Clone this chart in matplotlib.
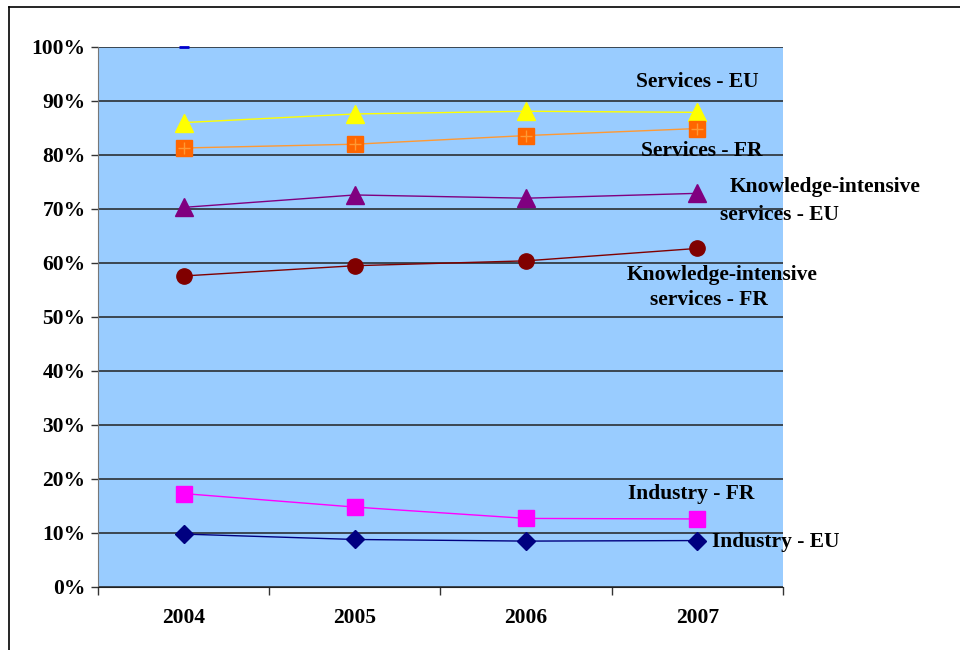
import matplotlib
matplotlib.use('Agg')
import matplotlib.pyplot as plt
from matplotlib.lines import Line2D
from matplotlib.ticker import FixedLocator, PercentFormatter

plt.rcParams['font.family'] = ['Liberation Serif', 'DejaVu Serif']
plt.rcParams['font.weight'] = 'bold'

years = ['2004', '2005', '2006', '2007']

services_eu = [86.0, 87.6, 88.1, 87.9]
services_fr = [81.3, 82.0, 83.6, 84.9]
kis_eu = [70.3, 72.6, 72.0, 72.9]
kis_fr = [57.6, 59.5, 60.4, 62.7]
industry_fr = [17.3, 14.8, 12.7, 12.6]
industry_eu = [9.8, 8.8, 8.5, 8.6]
stray_point = [100.0]

W, H = 960, 650
fig = plt.figure(figsize=(W / 100, H / 100), dpi=100)
ax = fig.add_axes([98 / W, 1 - 587 / H, (783 - 98) / W, (587 - 47) / H])
ax.set_facecolor('#99CCFF')

x = [i + 0.5 for i in range(len(years))]

ax.plot(x, services_eu, color='#FFFF00', lw=1, marker='^', ms=12.5, mfc='#FFFF00', mec='#FFFF00', zorder=3)
ax.plot(x, services_fr, color='#FF9933', lw=1, marker='s', ms=11, mfc='#FF6600', mec='#FF6600', zorder=3)
ax.plot(x, services_fr, lw=0, marker='+', ms=8, mec='#FF9933', mew=1, zorder=4)
ax.plot(x, kis_eu, color='#800080', lw=1, marker='^', ms=12.5, mfc='#800080', mec='#800080', zorder=3)
ax.plot(x, kis_fr, color='#800000', lw=1, marker='o', ms=11, mfc='#800000', mec='#800000', zorder=3)
ax.plot(x, industry_fr, color='#FF00FF', lw=1, marker='s', ms=11, mfc='#FF00FF', mec='#FF00FF', zorder=3)
ax.plot(x, industry_eu, color='#000080', lw=1, marker='D', ms=9.5, mfc='#000080', mec='#000080', zorder=3)
ax.plot(x[:1], stray_point, lw=0, marker='_', ms=7, mec='#0000CC', mew=2, zorder=4, clip_on=False)

ax.set_xlim(0, 4)
ax.set_ylim(0, 100)
ax.yaxis.set_major_locator(FixedLocator(range(0, 101, 10)))
ax.yaxis.set_major_formatter(PercentFormatter(decimals=0))
ax.xaxis.set_major_locator(FixedLocator(range(0, 5)))
ax.xaxis.set_minor_locator(FixedLocator(x))
ax.set_xticklabels([])
ax.set_xticklabels(years, minor=True)
ax.tick_params(axis='x', which='major', direction='out', length=6, width=1, color='#333333')
ax.tick_params(axis='x', which='minor', length=0, pad=15, labelsize=15.5)
ax.tick_params(axis='y', direction='out', length=5, width=1, color='#333333', labelsize=15.5, pad=4)
for lab in ax.get_xticklabels(minor=True) + ax.get_yticklabels():
    lab.set_fontweight('bold')

ax.grid(axis='y', color='#222222', lw=1.1)
ax.set_axisbelow(True)
for side in ['top', 'right']:
    ax.spines[side].set_visible(False)
ax.spines['left'].set_color('#777777')
ax.spines['bottom'].set_color('#222222')

labels = [
    ('Services - EU', 697, 82),
    ('Services - FR', 702, 151),
    ('Knowledge-intensive', 825, 187),
    ('services - EU', 779, 215),
    ('Knowledge-intensive', 722, 275),
    ('services - FR', 709, 300),
    ('Industry - FR', 691, 494),
    ('Industry - EU', 776, 542),
]
for txt, px, py in labels:
    fig.text(px / W, 1 - py / H, txt, ha='center', va='center', fontsize=15.5, fontweight='bold')

fig.add_artist(Line2D([9 / W, 9 / W], [0, 1 - 7 / H], color='black', lw=1.2))
fig.add_artist(Line2D([9 / W, 1], [1 - 7 / H, 1 - 7 / H], color='black', lw=1.2))

fig.savefig('out.png', dpi=100)
